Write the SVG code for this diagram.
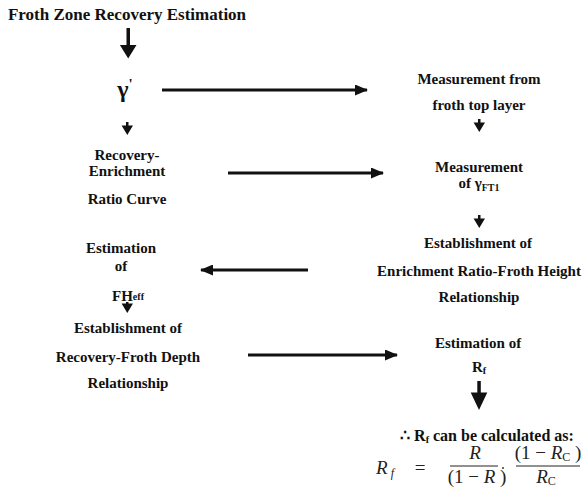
<svg xmlns="http://www.w3.org/2000/svg" width="582" height="499" viewBox="0 0 582 499">
<style>
.t{font-family:"Liberation Serif","Times New Roman",serif;font-weight:bold;font-size:15px;fill:#111;text-anchor:middle}
.title{font-size:17px}
.sub{font-size:10px}
.m{font-family:"Liberation Serif","Times New Roman",serif;font-style:italic;font-size:19px;fill:#222;text-anchor:middle}
.mu{font-family:"Liberation Serif","Times New Roman",serif;font-size:19px;fill:#222;text-anchor:middle}
.ms{font-size:12px}
.ln{stroke:#111;stroke-width:3;fill:none}
.hd{fill:#111}
</style>
<defs>
<marker id="ah" viewBox="0 0 13 11" markerWidth="13" markerHeight="11" refX="12" refY="5.5" orient="auto" markerUnits="userSpaceOnUse">
<path d="M0,0 L13,5.5 L0,11 z" class="hd"/>
</marker>
</defs>
<rect width="582" height="499" fill="#fff"/>

<g id="title"><text class="t title" x="127" y="20">Froth Zone Recovery Estimation</text></g>
<g id="gamma"><text class="t" x="125" y="97" style="font-size:24px">γ<tspan dy="-8" style="font-size:15px">'</tspan></text></g>
<g id="recovery-enrichment"><text class="t" x="127" y="160">Recovery-</text><text class="t" x="127" y="176">Enrichment</text><text class="t" x="127" y="204">Ratio Curve</text></g>
<g id="measurement-top"><text class="t" x="479" y="84">Measurement from</text><text class="t" x="479" y="110">froth top layer</text></g>
<g id="measurement-gamma"><text class="t" x="479" y="172">Measurement</text><text class="t" x="479" y="188">of γ<tspan class="sub" dy="3">FT1</tspan></text></g>
<g id="establishment-er"><text class="t" x="478" y="248">Establishment of</text><text class="t" x="479" y="276">Enrichment Ratio-Froth Height</text><text class="t" x="479" y="302">Relationship</text></g>
<g id="estimation-fh"><text class="t" x="121" y="253">Estimation</text><text class="t" x="121" y="271">of</text><text class="t" x="128" y="301">FH<tspan class="sub" dy="-1">eff</tspan></text></g>
<g id="establishment-rfd"><text class="t" x="128" y="333">Establishment of</text><text class="t" x="128" y="362">Recovery-Froth Depth</text><text class="t" x="128" y="388">Relationship</text></g>
<g id="estimation-rf"><text class="t" x="478" y="348">Estimation of</text><text class="t" x="479" y="372">R<tspan class="sub" dy="2">f</tspan></text></g>
<g id="formula">
<text class="t" x="487" y="441" style="font-size:16px">∴ R<tspan class="sub" dy="2">f</tspan><tspan dy="-2"> can be calculated as:</tspan></text>
<text class="m" x="385" y="474">R<tspan class="ms" dy="3"> f</tspan></text>
<text class="mu" x="420" y="474">=</text>
<line x1="450" y1="466" x2="498" y2="466" stroke="#222" stroke-width="1"/>
<text class="m" x="475" y="459">R</text>
<text class="mu" x="477" y="483">(1 − <tspan font-style="italic">R</tspan> )</text>
<circle cx="503" cy="468" r="0.9" fill="#222"/>
<line x1="516" y1="466" x2="580" y2="466" stroke="#222" stroke-width="1"/>
<text class="mu" x="548" y="459">(1 − <tspan font-style="italic">R</tspan><tspan class="ms" dy="2">C</tspan><tspan dy="-2"> )</tspan></text>
<text class="m" x="546" y="483">R<tspan class="ms" dy="2" font-style="normal">C</tspan></text>
</g>

<g id="connectors">
<path class="hd" d="M126.5,28 h3.5 v17 h6.5 l-8.3,13.5 l-8.3,-13.5 h6.6 z"/>
<path class="ln" d="M162,90 H367" marker-end="url(#ah)"/>
<path class="hd" d="M126,122 h2.5 v3.5 h4.5 l-5.7,9.5 l-5.7,-9.5 h4.4 z"/>
<path class="ln" d="M228,173 H383" marker-end="url(#ah)"/>
<path class="hd" d="M478,119 h2.5 v3.5 h4.5 l-5.7,9.5 l-5.7,-9.5 h4.4 z"/>
<path class="hd" d="M478,215 h2.5 v3.5 h4.5 l-5.7,9.5 l-5.7,-9.5 h4.4 z"/>
<path class="ln" d="M308,270 H201" marker-end="url(#ah)"/>
<path class="hd" d="M126,302 h2.5 v1.5 h4.5 l-5.7,9.5 l-5.7,-9.5 h4.4 z"/>
<path class="ln" d="M248,355 H397" marker-end="url(#ah)"/>
<path class="hd" d="M477.3,381 h3.5 v11.5 h6.5 l-8.3,17.5 l-8.3,-17.5 h6.6 z"/>
</g>
</svg>
